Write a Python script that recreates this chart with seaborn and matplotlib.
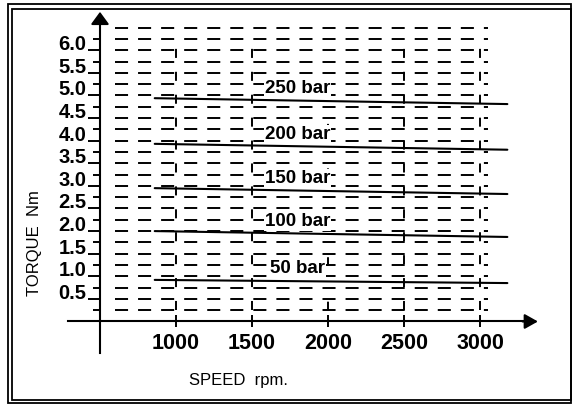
import numpy as np
import pandas as pd
import seaborn as sns
import matplotlib.pyplot as plt
from matplotlib.patches import Rectangle

# torque lines (start / end speed of each pressure line)
pressures = ["50 bar", "100 bar", "150 bar", "200 bar", "250 bar"]
speed_range = [860, 3180]
torque_low_speed = [0.92, 2.00, 2.95, 3.93, 4.94]
torque_high_speed = [0.85, 1.87, 2.82, 3.80, 4.81]

speed_ticks = [1000, 1500, 2000, 2500, 3000]
torque_ticks = [0.5, 1.0, 1.5, 2.0, 2.5, 3.0, 3.5, 4.0, 4.5, 5.0, 5.5, 6.0]
torque_minor = [0.25, 0.75, 1.25, 1.75, 2.25, 2.75, 3.25, 3.75, 4.25, 4.75, 5.25, 5.75, 6.25]

rows = []
for p, t0, t1 in zip(pressures, torque_low_speed, torque_high_speed):
    rows.append({"pressure": p, "speed": speed_range[0], "torque": t0})
    rows.append({"pressure": p, "speed": speed_range[1], "torque": t1})
df = pd.DataFrame(rows)

sns.set_style("white", rc={"text.color": "black", "xtick.color": "black",
                           "ytick.color": "black", "axes.labelcolor": "black"})
plt.rcParams["font.family"] = ["Liberation Sans", "DejaVu Sans"]
plt.rcParams["lines.scale_dashes"] = False

W, H = 573, 405
fig = plt.figure(figsize=(W / 100, H / 100), dpi=100)
ax = fig.add_axes([0.1082, 0.0946, 0.8356, 0.8817])
ax.set_xlim(250, 3400)
ax.set_ylim(-1.0, 6.9)

# dashed background grid
grid_rows = np.arange(1, 27) * 0.25
ax.hlines(grid_rows, 600, 3050, colors="black", linewidth=1.4,
          linestyles=(0, (9.4, 7.2)), zorder=1)
ax.vlines([1000, 1500, 2500, 3000], 0.25, 6.1, colors="black", linewidth=1.4,
          linestyles=(0, (6.5, 10)), zorder=1)
ax.vlines([2000], 0.25, 6.1, colors="black", linewidth=1.4,
          linestyles=(0, (6, 26)), zorder=1)

# torque lines
sns.lineplot(data=df, x="speed", y="torque", units="pressure", estimator=None,
             color="black", linewidth=1.5, ax=ax, zorder=2)

label_speed = 1800
for p, t0, t1 in zip(pressures, torque_low_speed, torque_high_speed):
    y = np.interp(label_speed, speed_range, [t0, t1]) + 0.27
    ax.text(label_speed, y, p, ha="center", va="center", fontsize=13.5,
            fontweight="bold", zorder=3,
            bbox=dict(fc="white", ec="none", pad=0.5))

# axes through the origin with arrowheads
for s in ["top", "right"]:
    ax.spines[s].set_visible(False)
ax.spines["left"].set_position(("data", 500))
ax.spines["left"].set_bounds(-0.7, 6.7)
ax.spines["bottom"].set_position(("data", 0))
ax.spines["bottom"].set_bounds(290, 3300)
for s in ["left", "bottom"]:
    ax.spines[s].set_linewidth(1.5)
    ax.spines[s].set_color("black")

ax.annotate("", xy=(500, 6.85), xytext=(500, 6.6),
            arrowprops=dict(arrowstyle="-|>,head_length=0.75,head_width=0.55",
                            color="black", lw=1.5, shrinkA=0, shrinkB=0))
ax.annotate("", xy=(3381, 0), xytext=(3280, 0),
            arrowprops=dict(arrowstyle="-|>,head_length=0.8,head_width=0.45",
                            color="black", lw=1.5, shrinkA=0, shrinkB=0))

ax.set_xticks(speed_ticks)
ax.set_xticklabels([str(v) for v in speed_ticks], fontsize=15.5, fontweight="bold")
ax.tick_params(axis="x", bottom=True, direction="inout", length=8.6, width=1.4, pad=4)

ax.set_yticks(torque_ticks)
ax.set_yticklabels([f"{v:.1f}" for v in torque_ticks], fontsize=14.5,
                   fontweight="bold", va="baseline")
ax.set_yticks(torque_minor, minor=True)
ax.tick_params(axis="y", which="major", left=True, direction="out",
               length=8.6, width=1.4, pad=1)
ax.tick_params(axis="y", which="minor", left=True, direction="out",
               length=5, width=1.4)

ax.set_xlabel("SPEED  rpm.", fontsize=12)
ax.xaxis.set_label_coords(0.3676, -0.040)
ax.xaxis.label.set_va("center")
ax.set_ylabel("TORQUE  Nm", fontsize=12)
ax.yaxis.set_label_coords(-0.058, 0.346)
ax.yaxis.label.set_va("center")

# double frame around the whole figure
def frame(x0, y0, x1, y1):
    fig.add_artist(Rectangle((x0 / W, 1 - y1 / H), (x1 - x0) / W, (y1 - y0) / H,
                             transform=fig.transFigure, fill=False,
                             ec="black", lw=1.3))

frame(7.5, 4, 571, 403)
frame(12, 8.5, 571, 400)

fig.savefig("out.png", dpi=100)
